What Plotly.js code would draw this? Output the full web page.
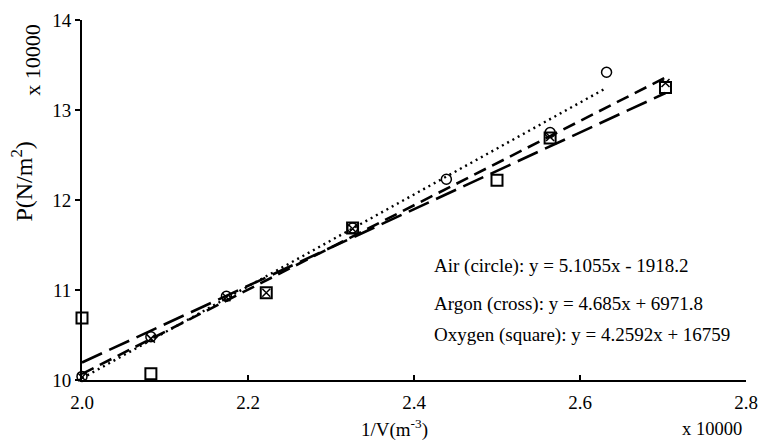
<!DOCTYPE html>
<html>
<head>
<meta charset="utf-8">
<script src="https://cdn.plot.ly/plotly-3.0.1.min.js"></script>
<style>html,body{margin:0;padding:0;background:#fff;}#chart{width:760px;height:442px;}</style>
</head>
<body>
<div id="chart"></div>
<script>
// values in units of 10000
var airX = [2.000, 2.083, 2.174, 2.326, 2.439, 2.564, 2.632];
var airY = [10.04, 10.48, 10.93, 11.69, 12.23, 12.75, 13.42];
var argonX = [2.000, 2.083, 2.174, 2.222, 2.326, 2.564, 2.703];
var argonY = [10.03, 10.46, 10.92, 10.97, 11.68, 12.70, 13.30];
var oxygenX = [2.000, 2.083, 2.222, 2.326, 2.500, 2.564, 2.703];
var oxygenY = [10.69, 10.07, 10.97, 11.69, 12.22, 12.69, 13.25];
// trendline equations (raw units)
var seriesNames = ["Air (circle)", "Argon (cross)", "Oxygen (square)"];
var slopes = [5.1055, 4.685, 4.2592];
var intercepts = [-1918.2, 6971.8, 16759];
var eqLabels = ["Air (circle): y = 5.1055x - 1918.2", "Argon (cross): y = 4.685x + 6971.8", "Oxygen (square): y = 4.2592x + 16759"];
var xTicks = [2.0, 2.2, 2.4, 2.6, 2.8];
var yTicks = [10, 11, 12, 13, 14];

var SCALE = 10000;
function trend(i, xs) {
  var x0 = Math.min.apply(null, xs), x1 = Math.max.apply(null, xs);
  var f = function (x) { return (slopes[i] * x * SCALE + intercepts[i]) / SCALE; };
  return {x: [x0, x1], y: [f(x0), f(x1)]};
}
var tA = trend(0, airX), tR = trend(1, argonX), tO = trend(2, oxygenX);
var font = "Liberation Serif, Times New Roman, serif";

var traces = [
  {x: tA.x, y: tA.y, mode: 'lines', line: {color: '#000', width: 2.4, dash: '2px,4px'}, hoverinfo: 'skip', cliponaxis: false},
  {x: tR.x, y: tR.y, mode: 'lines', line: {color: '#000', width: 2.6, dash: '13px,7px'}, hoverinfo: 'skip', cliponaxis: false},
  {x: tO.x, y: tO.y, mode: 'lines', line: {color: '#000', width: 2.6, dash: '22px,8px'}, hoverinfo: 'skip', cliponaxis: false},
  {x: airX, y: airY, name: seriesNames[0], mode: 'markers', cliponaxis: false,
   marker: {symbol: 'circle-open', size: 10, color: '#000', line: {color: '#000', width: 1.5}}},
  {x: argonX, y: argonY, name: seriesNames[1], mode: 'markers', cliponaxis: false,
   marker: {symbol: 'x-thin-open', size: 8, color: '#000', line: {color: '#000', width: 1.5}}},
  {x: oxygenX, y: oxygenY, name: seriesNames[2], mode: 'markers', cliponaxis: false,
   marker: {symbol: 'square-open', size: 11, color: '#000', line: {color: '#000', width: 2}}}
];

var ann = [];
var eqY = [11.267, 10.85, 10.5];
for (var i = 0; i < eqLabels.length; i++) {
  ann.push({x: 2.422, y: eqY[i], xref: 'x', yref: 'y', text: eqLabels[i], showarrow: false,
    xanchor: 'left', yanchor: 'middle', font: {family: font, size: 19, color: '#000'}});
}
ann.push({x: 0.47, y: -0.136, xref: 'paper', yref: 'paper', text: '1/V(m<sup>-3</sup>)', showarrow: false,
  xanchor: 'center', yanchor: 'middle', font: {family: font, size: 19, color: '#000'}});
ann.push({x: 0.949, y: -0.137, xref: 'paper', yref: 'paper', text: 'x 10000', showarrow: false,
  xanchor: 'center', yanchor: 'middle', font: {family: font, size: 18.5, color: '#000'}});
ann.push({x: -0.091, y: 0.55, xref: 'paper', yref: 'paper', text: 'P(N/m<sup>2</sup>)', showarrow: false, textangle: -90,
  xanchor: 'center', yanchor: 'middle', font: {family: font, size: 24, color: '#000'}});
ann.push({x: -0.074, y: 0.889, xref: 'paper', yref: 'paper', text: 'x 10000', showarrow: false, textangle: -90,
  xanchor: 'center', yanchor: 'middle', font: {family: font, size: 22, color: '#000'}});

var layout = {
  width: 760, height: 442,
  margin: {l: 82, r: 14, t: 20, b: 62},
  paper_bgcolor: '#fff', plot_bgcolor: '#fff',
  showlegend: false,
  font: {family: font, size: 18, color: '#000'},
  xaxis: {range: [2.0, 2.8], tickvals: xTicks, ticktext: xTicks.map(function (v) { return v.toFixed(1); }),
    ticks: 'inside', ticklen: 5, tickwidth: 2, tickcolor: '#000', ticklabelstandoff: 4,
    showline: true, linecolor: '#000', linewidth: 2, showgrid: false, zeroline: false,
    tickfont: {family: font, size: 19, color: '#000'}},
  yaxis: {range: [10, 14], tickvals: yTicks, ticktext: yTicks.map(String),
    ticks: 'outside', ticklen: 5, tickwidth: 2, tickcolor: '#000',
    showline: true, linecolor: '#000', linewidth: 2, showgrid: false, zeroline: false,
    tickfont: {family: font, size: 19, color: '#000'}},
  annotations: ann
};
Plotly.newPlot('chart', traces, layout, {displayModeBar: false, staticPlot: true});
</script>
</body>
</html>
